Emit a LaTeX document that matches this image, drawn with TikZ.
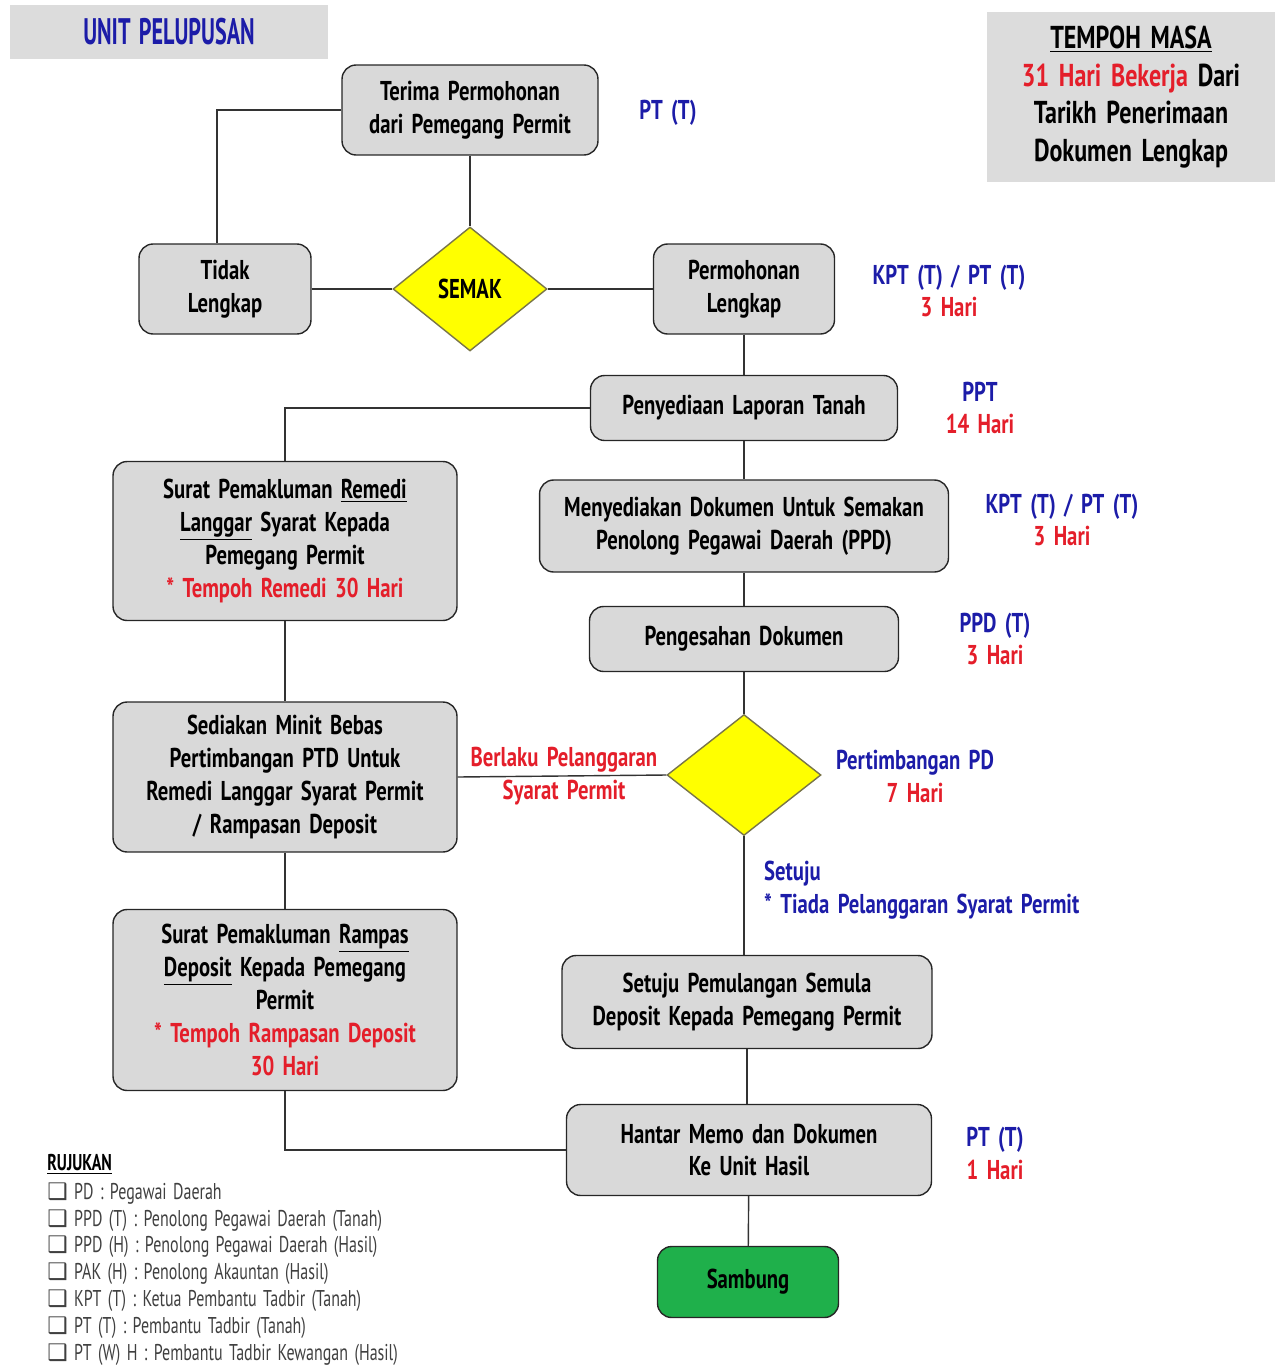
\documentclass[tikz,border=0pt]{standalone}
\usepackage{fontspec}
\setmainfont{PT Sans}[FakeStretch=0.76,WordSpace=1.6]
\newfontfamily\legfont{PT Sans}[FakeStretch=0.7,WordSpace=1.5]
\newfontfamily\hdfont{PT Sans}[FakeStretch=0.6,WordSpace=1.5]
\newfontfamily\symfont{DejaVu Sans}
\usepackage{tikz}
\usetikzlibrary{shapes.geometric}
\usetikzlibrary{positioning}
\definecolor{boxgray}{HTML}{D9D9D9}
\definecolor{hdrgray}{HTML}{DCDCDC}
\definecolor{tblue}{HTML}{1C1CA8}
\definecolor{tred}{HTML}{E41E2A}
\definecolor{dyellow}{HTML}{FFFF00}
\definecolor{sgreen}{HTML}{1FB04B}
\tikzstyle{box}=[draw=black!85,fill=boxgray,rounded corners=8pt,thick,align=center,inner sep=2pt,font=\bfseries\fontsize{15.5}{18.7}\selectfont]
\tikzstyle{dec}=[draw=black!60!yellow,fill=dyellow,diamond,thick,inner sep=0pt,font=\bfseries\fontsize{15.5}{18.7}\selectfont]
\tikzstyle{lbl}=[align=center,text=tblue,font=\bfseries\fontsize{15.5}{18.7}\selectfont]
\tikzstyle{link}=[thick,draw=black!80]

\begin{document}
\begin{tikzpicture}[x=0.02cm,y=-0.02cm]
\useasboundingbox (0,0) rectangle (1275,1372);

% header boxes
\node [fill=hdrgray,minimum width=6.36cm,minimum height=1.1cm,text=tblue,font=\hdfont\bfseries\fontsize{21}{24}\selectfont] (unit) at (169,32) {UNIT PELUPUSAN};
\node [fill=hdrgray,minimum width=5.76cm,minimum height=3.42cm,align=center,font=\bfseries\fontsize{18}{21.5}\selectfont] (masa) at (1131,97)
  {\underline{TEMPOH MASA}\\\textcolor{tred}{31 Hari Bekerja} Dari\\Tarikh Penerimaan\\Dokumen Lengkap};

% process boxes
\node [box,minimum width=5.12cm,minimum height=1.8cm] (trm) at (470,110) {Terima Permohonan\\dari Pemegang Permit};
\node [box,minimum width=3.44cm,minimum height=1.8cm] (tdk) at (225,289) {Tidak\\Lengkap};
\node [dec,minimum width=3.08cm,minimum height=2.48cm] (smk) at (470,289) {SEMAK};
\node [box,minimum width=3.62cm,minimum height=1.8cm] (lkp) at (744,289) {Permohonan\\Lengkap};
\node [box,minimum width=6.14cm,minimum height=1.3cm] (lap) at (744,408) {Penyediaan Laporan Tanah};
\node [box,minimum width=6.88cm,minimum height=3.18cm] (rem) at (285,541)
  {Surat Pemakluman \underline{Remedi}\\\underline{Langgar} Syarat Kepada\\Pemegang Permit\\\textcolor{tred}{* Tempoh Remedi 30 Hari}};
\node [box,minimum width=8.18cm,minimum height=1.84cm] (dok) at (744,526) {Menyediakan Dokumen Untuk Semakan\\Penolong Pegawai Daerah (PPD)};
\node [box,minimum width=6.18cm,minimum height=1.3cm] (sah) at (744,639) {Pengesahan Dokumen};
\node [dec,minimum width=3.08cm,minimum height=2.42cm] (pd) at (744,775) {};
\node [box,minimum width=6.88cm,minimum height=3.0cm] (mnt) at (285,777)
  {Sediakan Minit Bebas\\Pertimbangan PTD Untuk\\Remedi Langgar Syarat Permit\\/ Rampasan Deposit};
\node [box,minimum width=6.88cm,minimum height=3.62cm] (rmp) at (285,1000)
  {Surat Pemakluman \underline{Rampas}\\\underline{Deposit} Kepada Pemegang\\Permit\\\textcolor{tred}{* Tempoh Rampasan Deposit}\\\textcolor{tred}{30 Hari}};
\node [box,minimum width=7.4cm,minimum height=1.86cm] (stj) at (747,1002) {Setuju Pemulangan Semula\\Deposit Kepada Pemegang Permit};
\node [box,minimum width=7.3cm,minimum height=1.82cm] (hnt) at (749,1150) {Hantar Memo dan Dokumen\\Ke Unit Hasil};
\node [box,fill=sgreen,minimum width=3.62cm,minimum height=1.42cm] (smb) at (748,1282) {Sambung};

% side labels
\node [lbl] (pt1) at (668,113) {PT (T)};
\node [lbl] (kpt1) at (949,291) {KPT (T) / PT (T)\\\textcolor{tred}{3 Hari}};
\node [lbl] (ppt) at (980,408) {PPT\\\textcolor{tred}{14 Hari}};
\node [lbl] (kpt2) at (1062,520) {KPT (T) / PT (T)\\\textcolor{tred}{3 Hari}};
\node [lbl] (ppd) at (995,639) {PPD (T)\\\textcolor{tred}{3 Hari}};
\node [lbl] (pdl) at (915,776) {Pertimbangan PD\\\textcolor{tred}{7 Hari}};
\node [lbl,text=tred] (lgr) at (564,776) {Berlaku Pelanggaran\\Syarat Permit};
\node [lbl,align=left,anchor=north west] (sty) at (758,855) {Setuju\\* Tiada Pelanggaran Syarat Permit};
\node [lbl] (pt2) at (995,1153) {PT (T)\\\textcolor{tred}{1 Hari}};

% connectors
\draw [link] (trm.west) -| ([xshift=-0.16cm]tdk.north);
\draw [link] (trm) -- (smk);
\draw [link] (tdk) -- (smk);
\draw [link] (smk) -- (lkp);
\draw [link] (lkp) -- (lap);
\draw [link] (lap.west) -| (rem.north);
\draw [link] (lap) -- (dok);
\draw [link] (dok) -- (sah);
\draw [link] (sah) -- (pd);
\draw [link] (rem) -- (mnt);
\draw [link] (mnt.east) -- (pd.west);
\draw [link] (mnt) -- (rmp);
\draw [link] (pd.south) -- (pd.south |- stj.north);
\draw [link] (stj.south) -- (stj.south |- hnt.north);
\draw [link] (rmp.south) |- (hnt.west);
\draw [link] (hnt) -- (smb);

% legend
\node [anchor=north west,align=left,inner sep=0pt,text=black!75,font=\legfont\fontsize{13}{15.3}\selectfont] (ruj) at (47,1154)
  {\textcolor{black}{\bfseries\underline{RUJUKAN}}\\[1pt]
   {\symfont ❑}\ PD : Pegawai Daerah\\
   {\symfont ❑}\ PPD (T) : Penolong Pegawai Daerah (Tanah)\\
   {\symfont ❑}\ PPD (H) : Penolong Pegawai Daerah (Hasil)\\
   {\symfont ❑}\ PAK (H) : Penolong Akauntan (Hasil)\\
   {\symfont ❑}\ KPT (T) : Ketua Pembantu Tadbir (Tanah)\\
   {\symfont ❑}\ PT (T) : Pembantu Tadbir (Tanah)\\
   {\symfont ❑}\ PT (W) H : Pembantu Tadbir Kewangan (Hasil)};
\end{tikzpicture}
\end{document}
